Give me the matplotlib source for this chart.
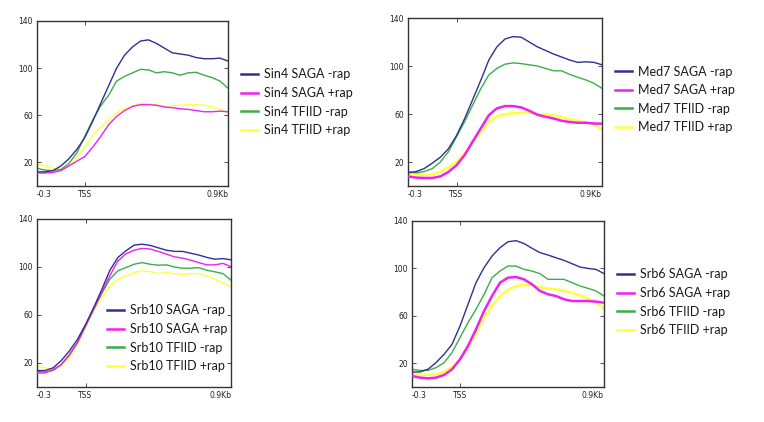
import matplotlib
matplotlib.use("Agg")
import matplotlib.pyplot as plt
from matplotlib.lines import Line2D
from matplotlib.transforms import ScaledTranslation

# ===================== data =====================
# distance from TSS in kb, same grid for every profile
pos_kb = [-0.30, -0.25, -0.20, -0.15, -0.10, -0.05, 0.00, 0.05, 0.10, 0.15, 0.20, 0.25,
          0.30, 0.35, 0.40, 0.45, 0.50, 0.55, 0.60, 0.65, 0.70, 0.75, 0.80, 0.85, 0.90]

conditions = ["SAGA -rap", "SAGA +rap", "TFIID -rap", "TFIID +rap"]

sin4_saga_minus = [12, 12, 13, 17, 23, 31, 41, 55, 70, 85, 100, 111,
                   118, 123, 124, 121, 117, 113, 112, 111, 109, 108, 108, 108.5, 106]
sin4_saga_plus = [11, 11, 11.5, 13, 17, 21, 25, 33, 42, 52, 59, 64,
                  67.5, 69, 69, 68.5, 67, 66.5, 65.5, 65, 64, 63, 63, 63.5, 63]
sin4_tfiid_minus = [15, 13.5, 13, 14, 19, 28, 42, 56, 68, 77, 89, 93,
                    96, 99, 98.5, 96, 97, 96, 94, 96, 96.5, 94, 92, 89, 83]
sin4_tfiid_plus = [19, 17, 15, 14, 17, 24, 33, 43, 50, 56, 62, 66,
                   68, 70, 69.5, 69, 68, 68, 68.5, 69, 69, 68.5, 67, 65, 62]

med7_saga_minus = [11, 12, 14.5, 19, 24, 31, 42, 56, 72, 88, 105, 116,
                   122.5, 124.5, 124, 120, 116, 113, 110, 107.5, 105, 103, 103.5, 103, 101]
med7_saga_plus = [8, 7, 6.7, 6.7, 8, 11.7, 17.3, 25.7, 37, 48, 59, 64.7,
                  66.6, 66.6, 65.5, 62.7, 59.4, 57.7, 56.3, 54.4, 53.3, 52.7, 52.7, 52.1, 51.9]
med7_tfiid_minus = [12, 11, 12, 14.5, 20, 28.5, 41, 53.5, 67.5, 81, 92.6, 98,
                    101.5, 102.6, 102, 101, 100, 98, 96, 96, 93, 90.6, 88.4, 85.6, 81.4]
med7_tfiid_plus = [9.8, 10, 9, 9.8, 11.7, 15.6, 20, 27, 36, 45, 53.5, 58,
                   60, 60.5, 61, 61, 60, 59.6, 59, 57.5, 55.5, 54.4, 53, 51, 47]

srb10_saga_minus = [13.7, 13.7, 16, 22, 30, 39.6, 52, 66, 81, 97, 107.9, 113.5,
                    118.2, 119, 118, 116, 114, 113, 113, 111.5, 110, 108, 106.5, 107, 106]
srb10_saga_plus = [11.7, 11.7, 14.5, 18.7, 26.5, 37, 51, 64.7, 78.6, 92.6, 105, 111,
                   114, 115.5, 115, 113, 110.7, 108.5, 107.4, 105.7, 103.7, 101.8, 101.8, 103, 100.4]
srb10_tfiid_minus = [13, 12.5, 13.7, 18.7, 27, 37, 51, 64.7, 77.8, 89.8, 96.8, 99.5,
                     102.3, 103.7, 102.3, 101.5, 101.8, 100, 99, 99, 99.5, 97.3, 96, 94.5, 89]
srb10_tfiid_plus = [17.3, 16, 14.5, 17.3, 24.3, 35.4, 49.4, 63.3, 74.5, 84, 89.8, 92.6,
                    95.4, 96.8, 96.2, 94.5, 95.4, 94.5, 94, 94.5, 94.5, 92.6, 89.8, 87, 83.4]

srb6_saga_minus = [12.7, 12.7, 15, 20.5, 27.5, 36, 51.4, 69.7, 88, 100.6, 110.4, 117.5,
                   122.5, 123.4, 121, 117, 113.3, 111.3, 109, 106.8, 104, 101.2, 100, 99.2, 95.6]
srb6_saga_plus = [9.3, 7.9, 7.3, 7.9, 10.1, 14.9, 23.3, 34.6, 48.6, 64, 76.7, 88,
                  92.2, 92.8, 90.8, 86.6, 81, 78.2, 76.7, 74, 72.5, 72.5, 72.5, 72, 71.1]
srb6_tfiid_minus = [15, 14, 14, 16.3, 20.5, 29, 41.6, 54.3, 65.5, 78, 92.2, 97.8,
                    102, 102, 99.2, 97.8, 95.6, 90.8, 90.8, 90.8, 88, 85.2, 83.2, 81, 76.7]
srb6_tfiid_plus = [11.2, 10.7, 10.1, 10.7, 12.7, 16.9, 23.3, 33.2, 45, 58.5, 68.3, 76.7,
                   81.8, 85.2, 86, 86, 84.3, 83, 82.4, 81, 79.3, 77.3, 74.8, 71.1, 66]

x_ticks = [-0.3, 0.0, 0.9]
x_ticklabels = ["-0.3", "TSS", "0.9Kb"]
y_ticks = [20, 60, 100, 140]

# ===================== styling =====================
COLORS = ["#2e3192", "#ee22ee", "#3cad48", "#ffff40"]
W, H = 764, 422

panels = [
    # name, profiles, axes box (px: left, top, right, bottom), legend anchor (px), thick +rap lines
    ("Sin4", [sin4_saga_minus, sin4_saga_plus, sin4_tfiid_minus, sin4_tfiid_plus],
     (37, 21, 228, 186), (241, 68.5), False),
    ("Med7", [med7_saga_minus, med7_saga_plus, med7_tfiid_minus, med7_tfiid_plus],
     (408, 18, 602, 186), (615, 65.5), True),
    ("Srb10", [srb10_saga_minus, srb10_saga_plus, srb10_tfiid_minus, srb10_tfiid_plus],
     (37, 219, 231, 387), (107, 304.5), False),
    ("Srb6", [srb6_saga_minus, srb6_saga_plus, srb6_tfiid_minus, srb6_tfiid_plus],
     (412, 221, 604, 387), (617, 268.5), True),
]

fig = plt.figure(figsize=(W / 100, H / 100), dpi=100, facecolor="white")
shift = ScaledTranslation(4 / 72, 0, fig.dpi_scale_trans)

for name, profiles, (l, t, r, b), (lx, ly), thick in panels:
    ax = fig.add_axes([l / W, 1 - b / H, (r - l) / W, (b - t) / H])
    for i, (vals, c) in enumerate(zip(profiles, COLORS)):
        lw = 1.8 if (thick and i in (1, 3)) else 1.0
        ax.plot(pos_kb, vals, color=c, lw=lw, zorder=4 - i if i != 0 else 5)
    ax.set_xlim(-0.3, 0.9)
    ax.set_ylim(0, 140)
    ax.set_xticks(x_ticks)
    ax.set_xticklabels(x_ticklabels)
    tl = ax.get_xticklabels()
    tl[0].set_ha("left")
    tl[-1].set_ha("right")
    tl[-1].set_transform(tl[-1].get_transform() + shift)
    ax.set_yticks(y_ticks)
    ax.tick_params(direction="in", top=True, right=True, length=3, width=0.6,
                   labelsize=5.5, pad=3, colors="#333333", labelcolor="#222222")
    for s in ax.spines.values():
        s.set_linewidth(1.0)
        s.set_color("#333333")

    handles = [Line2D([], [], color=c, lw=1.8) for c in COLORS]
    labels = [f"{name} {cond}" for cond in conditions]
    leg = ax.legend(handles, labels, loc="upper left",
                    bbox_to_anchor=(lx / W, 1 - ly / H), bbox_transform=fig.transFigure,
                    frameon=False, borderpad=0, borderaxespad=0,
                    handlelength=1.36, handletextpad=0.48, labelspacing=0.53,
                    prop={"family": "Lato", "size": 9})
    for txt in leg.get_texts():
        txt.set_color("#1a1a1a")

plt.savefig("out.png", dpi=100, facecolor="white")
plt.close()
